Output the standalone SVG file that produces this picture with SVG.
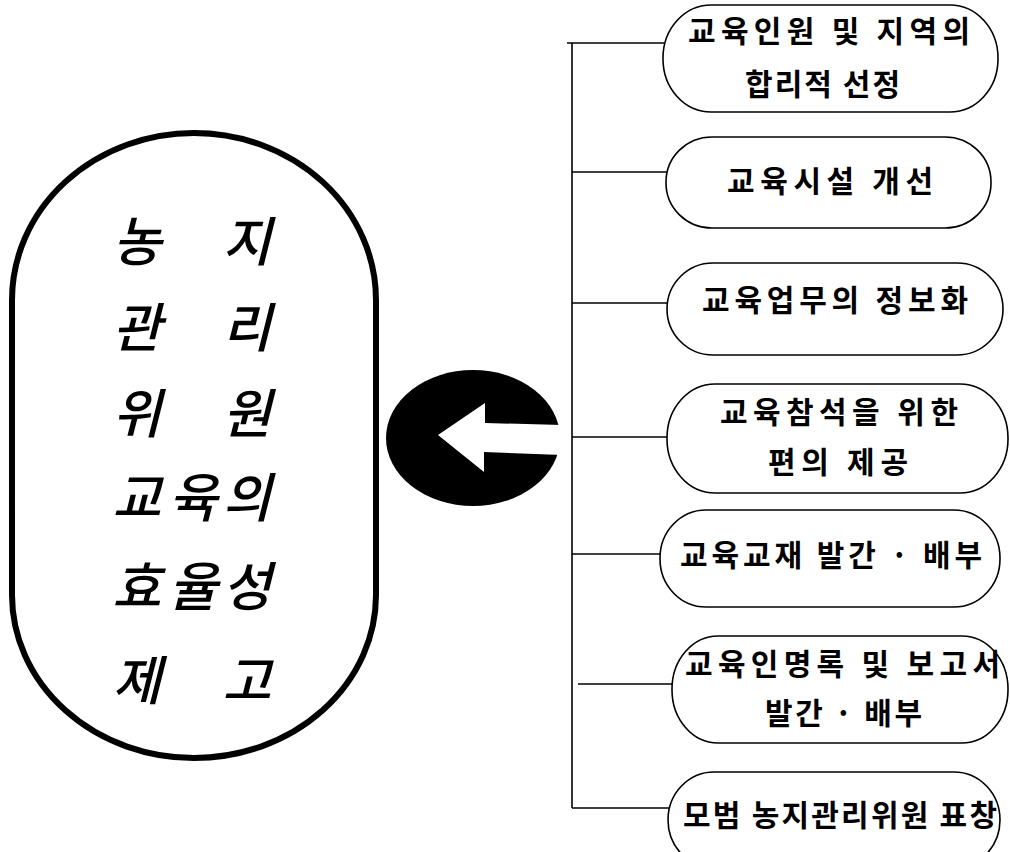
<svg xmlns="http://www.w3.org/2000/svg" width="1010" height="852" viewBox="0 0 1010 852">
<style>
.bg{fill:#fff}
.big{fill:none;stroke:#000;stroke-width:6}
.node{fill:#fff;stroke:#000;stroke-width:1.6}
.conn{fill:none;stroke:#000;stroke-width:1.6}
.lt{font-family:"Noto Sans CJK KR","Noto Sans",sans-serif;font-size:53px;font-weight:500;font-style:italic;text-anchor:middle;fill:#000}
.nt{font-family:"Noto Sans CJK KR","Noto Sans",sans-serif;font-size:30px;font-weight:bold;fill:#000}
</style>
<rect class="bg" x="0" y="0" width="1010" height="852"/>
<g id="main">
<path class="big" d="M12,300 A182,167 0 0 1 376,300 L376,595 A182,163 0 0 1 12,595 Z"/>
<text class="lt" x="137 247" y="261">농지</text>
<text class="lt" x="137 247" y="347">관리</text>
<text class="lt" x="137 247" y="433">위원</text>
<text class="lt" x="137 193 247" y="517">교육의</text>
<text class="lt" x="137 193 247" y="606">효율성</text>
<text class="lt" x="137 247" y="700">제고</text>
</g>
<g id="arrow">
<ellipse cx="473" cy="438" rx="87" ry="68" fill="#000"/>
<path d="M438,435 L485,403 L485,423 L562,425 L562,455 L484,452 L484,472 Z" fill="#fff"/>
</g>
<g id="connectors">
<line class="conn" x1="572" y1="43" x2="572" y2="808"/>
<line class="conn" x1="567" y1="43" x2="664" y2="43"/>
<line class="conn" x1="572" y1="172" x2="667" y2="172"/>
<line class="conn" x1="572" y1="303" x2="668" y2="303"/>
<line class="conn" x1="572" y1="437" x2="668" y2="437"/>
<line class="conn" x1="572" y1="554" x2="661" y2="554"/>
<line class="conn" x1="578" y1="684" x2="673" y2="684"/>
<line class="conn" x1="572" y1="808" x2="669" y2="808"/>
</g>
<g id="n1">
<rect class="node" x="663" y="5" width="335" height="107" rx="48" ry="53"/>
<text class="nt" x="688" y="42" textLength="282" lengthAdjust="spacing">교육인원 및 지역의</text>
<text class="nt" x="745" y="95" textLength="155" lengthAdjust="spacing">합리적 선정</text>
</g>
<g id="n2">
<rect class="node" x="666" y="137" width="325" height="91" rx="46" ry="45"/>
<text class="nt" x="727" y="192" textLength="206" lengthAdjust="spacing">교육시설 개선</text>
</g>
<g id="n3">
<rect class="node" x="667" y="263" width="336" height="92" rx="46" ry="46"/>
<text class="nt" x="702" y="311" textLength="266" lengthAdjust="spacing">교육업무의 정보화</text>
</g>
<g id="n4">
<rect class="node" x="667" y="384" width="341" height="109" rx="48" ry="54"/>
<text class="nt" x="720" y="423" textLength="238" lengthAdjust="spacing">교육참석을 위한</text>
<text class="nt" x="768" y="473" textLength="140" lengthAdjust="spacing">편의 제공</text>
</g>
<g id="n5">
<rect class="node" x="660" y="510" width="340" height="97" rx="46" ry="48"/>
<text class="nt" x="680" y="566" textLength="302" lengthAdjust="spacing">교육교재 발간 · 배부</text>
</g>
<g id="n6">
<rect class="node" x="672" y="636" width="336" height="107" rx="46" ry="53"/>
<text class="nt" x="685" y="675" textLength="315" lengthAdjust="spacing">교육인명록 및 보고서</text>
<text class="nt" x="765" y="724" textLength="157" lengthAdjust="spacing">발간 · 배부</text>
</g>
<g id="n7">
<rect class="node" x="668" y="772" width="332" height="96" rx="46" ry="48"/>
<text class="nt" x="683" y="826" textLength="314" lengthAdjust="spacing">모범 농지관리위원 표창</text>
</g>
</svg>
